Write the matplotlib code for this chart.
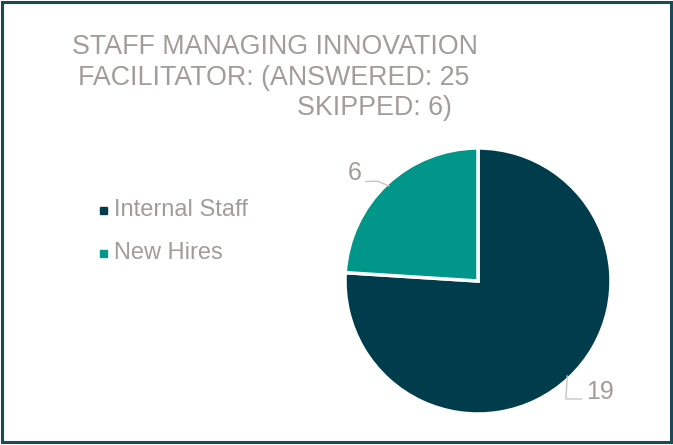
import numpy as np
import matplotlib.pyplot as plt
from matplotlib.patches import Rectangle

plt.rcParams['font.family'] = ['Liberation Sans', 'DejaVu Sans']

categories = ['Internal Staff', 'New Hires']
counts = [19, 6]
colors = ['#003D4C', '#00968A']
title_lines = ['STAFF MANAGING INNOVATION', 'FACILITATOR: (ANSWERED: 25', 'SKIPPED: 6)']

text_grey = '#A29C9A'
line_grey = '#C8C4C2'

fig = plt.figure(figsize=(6.73, 4.45), dpi=100)

# dark frame around the whole chart
fig.patches.append(Rectangle((0.003, 0.006), 0.994, 0.99, transform=fig.transFigure,
                             fill=False, edgecolor='#1B4A57', linewidth=2.2))

# title, three lines
fig.text(72 / 673, 1 - 47 / 445, title_lines[0], fontsize=19.3, color=text_grey, va='center')
fig.text(78 / 673, 1 - 78 / 445, title_lines[1], fontsize=19.3, color=text_grey, va='center')
fig.text(297 / 673, 1 - 108 / 445, title_lines[2], fontsize=19.3, color=text_grey, va='center')

# legend
for i, (cat, col) in enumerate(zip(categories, colors)):
    y = 1 - (210 + i * 43) / 445
    fig.patches.append(Rectangle((100 / 673, y - 4 / 445), 7 / 673, 7 / 445,
                                 transform=fig.transFigure, color=col))
    fig.text(114 / 673, y, cat, fontsize=17, color=text_grey, va='center')

ax = fig.add_axes([345 / 673, 31 / 445, 266 / 673, 266 / 445])
wedges, _ = ax.pie(counts, colors=colors, startangle=90, counterclock=False,
                   radius=1, wedgeprops=dict(edgecolor='white', linewidth=2.5))
ax.set_xlim(-1, 1)
ax.set_ylim(-1, 1)
ax.set_aspect('equal')
ax.axis('off')

# value labels with elbow leader lines
for i, w in enumerate(wedges):
    mid = np.deg2rad((w.theta1 + w.theta2) / 2)
    ex, ey = 0.98 * np.cos(mid), 0.98 * np.sin(mid)
    if i == 0:
        tx, ty, ha = 0.81, -0.835, 'left'
        xs = [ex, ex - 0.01, tx - 0.03]
        ys = [ey, -0.887, -0.887]
    else:
        tx, ty, ha = -0.872, 0.812, 'right'
        xs = [ex, ex - 0.08, tx + 0.03]
        ys = [ey, 0.75, 0.748]
    ax.plot(xs, ys, color=line_grey, lw=1, clip_on=False)
    ax.text(tx, ty, str(counts[i]), fontsize=18, color=text_grey,
            ha=ha, va='center')

fig.savefig('out.png', dpi=100)
